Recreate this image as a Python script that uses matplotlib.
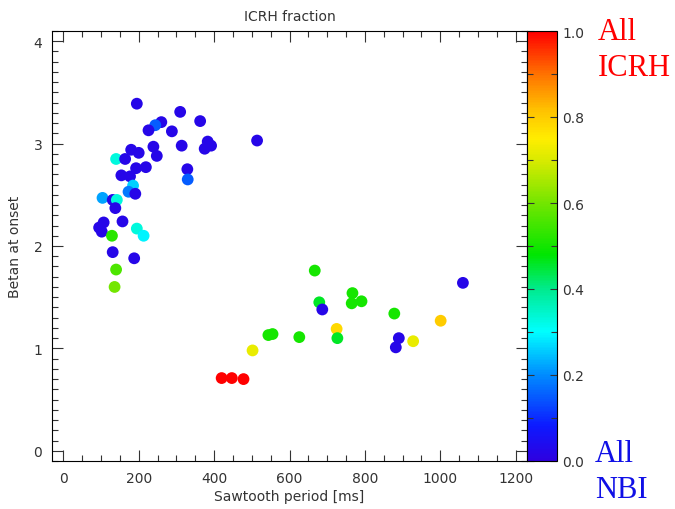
import matplotlib
matplotlib.use("Agg")
import matplotlib.pyplot as plt
from matplotlib.colors import LinearSegmentedColormap
from matplotlib.ticker import MultipleLocator

# Sawtooth period [ms]
period = [195, 310, 363, 260, 244, 226, 288, 314, 383, 392, 375, 239, 248, 180,
          200, 140, 164, 193, 219, 154, 177, 329, 330, 514, 185, 173, 191, 104,
          131, 142, 138, 107, 95, 102, 157, 195, 213, 129, 131, 188, 140, 136,
          667, 767, 791, 765, 679, 687, 878, 1001, 725, 727, 626, 544, 555, 890,
          882, 928, 502, 420, 447, 478, 1060]
# Betan at onset
betan = [3.39, 3.31, 3.22, 3.21, 3.18, 3.13, 3.12, 2.98, 3.02, 2.98, 2.95, 2.97,
         2.88, 2.94, 2.91, 2.85, 2.85, 2.76, 2.77, 2.69, 2.68, 2.75, 2.65, 3.03,
         2.59, 2.53, 2.51, 2.47, 2.45, 2.45, 2.37, 2.23, 2.18, 2.14, 2.24, 2.17,
         2.10, 2.10, 1.94, 1.88, 1.77, 1.60,
         1.76, 1.54, 1.46, 1.44, 1.45, 1.38, 1.34, 1.27, 1.19, 1.10, 1.11, 1.13,
         1.14, 1.10, 1.01, 1.07, 0.98, 0.71, 0.71, 0.70, 1.64]
# ICRH fraction
icrh = [0.02, 0.02, 0.02, 0.02, 0.15, 0.02, 0.02, 0.02, 0.02, 0.02, 0.02, 0.02,
        0.02, 0.02, 0.02, 0.33, 0.02, 0.02, 0.02, 0.02, 0.02, 0.02, 0.15, 0.02,
        0.26, 0.18, 0.02, 0.22, 0.02, 0.33, 0.02, 0.02, 0.02, 0.02, 0.02, 0.33,
        0.29, 0.52, 0.02, 0.02, 0.56, 0.60,
        0.50, 0.50, 0.50, 0.50, 0.46, 0.02, 0.50, 0.80, 0.78, 0.46, 0.50, 0.50,
        0.50, 0.02, 0.02, 0.72, 0.72, 1.0, 1.0, 1.0, 0.02]

cbar_ticks = [0.0, 0.2, 0.4, 0.6, 0.8, 1.0]
x_ticks = [0, 200, 400, 600, 800, 1000, 1200]
y_ticks = [0, 1, 2, 3, 4]

anchors = [
    (0.00, (0.18, 0.00, 0.88)),
    (0.08, (0.05, 0.10, 1.00)),
    (0.20, (0.00, 0.55, 1.00)),
    (0.30, (0.00, 1.00, 1.00)),
    (0.40, (0.00, 0.92, 0.55)),
    (0.48, (0.00, 0.90, 0.00)),
    (0.60, (0.45, 0.90, 0.00)),
    (0.70, (0.85, 0.92, 0.00)),
    (0.75, (1.00, 0.93, 0.00)),
    (0.82, (1.00, 0.75, 0.00)),
    (0.90, (1.00, 0.45, 0.00)),
    (1.00, (1.00, 0.00, 0.00)),
]
cmap = LinearSegmentedColormap.from_list("idl_rainbow", anchors)

W, H = 675, 510
fig = plt.figure(figsize=(W / 100, H / 100), dpi=100)
ax = fig.add_axes([52 / W, 1 - 462 / H, 475 / W, 430 / H])
cax = fig.add_axes([527 / W, 1 - 462 / H, 30 / W, 430 / H])

sc = ax.scatter(period, betan, c=icrh, cmap=cmap, vmin=0, vmax=1, s=72,
                edgecolors='none', zorder=3)

ax.set_xlim(-30, 1230)
ax.set_ylim(-0.1, 4.1)
ax.set_xticks(x_ticks)
ax.set_yticks(y_ticks)
ax.xaxis.set_minor_locator(MultipleLocator(50))
ax.yaxis.set_minor_locator(MultipleLocator(0.1))
ax.tick_params(which='both', direction='in', top=True, right=True,
               labelsize=10, colors='#333333', width=0.8)
ax.tick_params(which='major', length=8, pad=7)
ax.tick_params(which='minor', length=4)
for sp in ax.spines.values():
    sp.set_linewidth(0.8)
ax.set_xlabel("Sawtooth period [ms]", fontsize=10, color='#333333', labelpad=3)
ax.set_ylabel("Betan at onset", fontsize=10, color='#333333', labelpad=8)
ax.set_title("ICRH fraction", fontsize=10, color='#333333', pad=8)

cb = fig.colorbar(sc, cax=cax)
cb.set_ticks(cbar_ticks)
cb.set_ticklabels([f"{t:.1f}" for t in cbar_ticks])
cax.yaxis.set_minor_locator(MultipleLocator(0.1))
cax.tick_params(which='both', direction='in', left=True, right=True,
                labelsize=10, colors='#333333', width=0.8)
cax.tick_params(which='major', length=5, pad=4)
cax.tick_params(which='minor', length=4)
cb.outline.set_linewidth(0.8)

serif = ['Liberation Serif', 'DejaVu Serif']
fig.text(598 / W, 1 - 40 / H, "All", color='red', fontsize=22,
         family=serif, va='baseline', ha='left')
fig.text(598 / W, 1 - 76 / H, "ICRH", color='red', fontsize=22,
         family=serif, va='baseline', ha='left')
fig.text(595 / W, 1 - 462 / H, "All", color='#1010e6', fontsize=22,
         family=serif, va='baseline', ha='left')
fig.text(595 / W, 1 - 498 / H, "NBI", color='#1010e6', fontsize=22,
         family=serif, va='baseline', ha='left')

fig.savefig("out.png", dpi=100)
